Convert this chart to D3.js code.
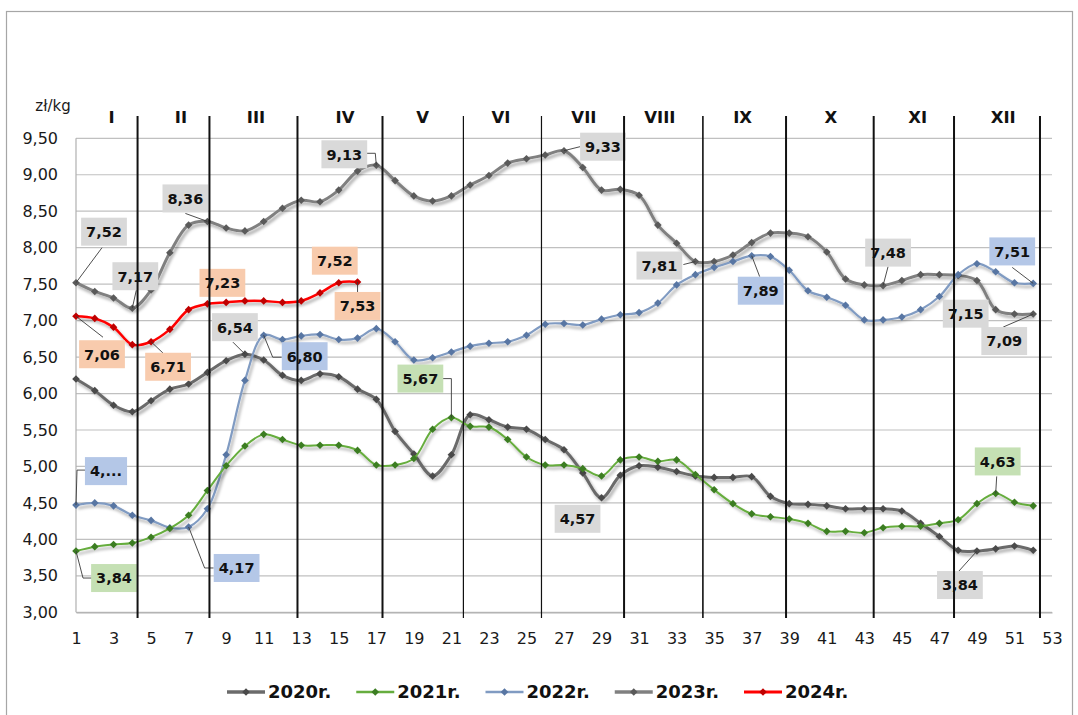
<!DOCTYPE html>
<html><head><meta charset="utf-8">
<script src="https://cdn.jsdelivr.net/npm/d3@7"></script>
<style>body{margin:0;background:#fff}svg{display:block}</style>
</head><body><svg id="c" width="1078" height="715"></svg>
<script>
// ---------------- DATA ----------------
const weeks = d3.range(1, 53);
const v2020 = [6.20,6.04,5.84,5.75,5.90,6.06,6.13,6.29,6.45,6.54,6.46,6.25,6.18,6.27,6.23,6.06,5.92,5.48,5.17,4.87,5.16,5.71,5.64,5.54,5.51,5.37,5.23,4.91,4.57,4.88,5.01,4.99,4.93,4.87,4.85,4.85,4.86,4.59,4.49,4.48,4.46,4.42,4.42,4.42,4.39,4.22,4.04,3.85,3.84,3.87,3.91,3.85];
const v2021 = [3.84,3.90,3.93,3.95,4.03,4.15,4.33,4.67,5.01,5.28,5.44,5.37,5.29,5.29,5.29,5.22,5.02,5.02,5.11,5.51,5.67,5.55,5.54,5.37,5.13,5.02,5.02,4.97,4.87,5.09,5.13,5.07,5.09,4.89,4.68,4.49,4.35,4.31,4.28,4.22,4.11,4.11,4.09,4.16,4.18,4.18,4.22,4.27,4.49,4.63,4.51,4.46];
const v2022 = [4.47,4.50,4.46,4.33,4.26,4.16,4.17,4.42,5.16,6.18,6.80,6.74,6.79,6.81,6.74,6.76,6.89,6.71,6.46,6.49,6.57,6.65,6.69,6.71,6.80,6.95,6.96,6.94,7.02,7.08,7.11,7.24,7.49,7.63,7.73,7.81,7.89,7.88,7.69,7.41,7.32,7.21,7.01,7.01,7.05,7.15,7.33,7.63,7.78,7.67,7.52,7.51];
const v2023 = [7.52,7.40,7.31,7.17,7.42,7.93,8.31,8.36,8.27,8.23,8.36,8.54,8.65,8.63,8.79,9.05,9.13,8.92,8.71,8.64,8.71,8.86,8.99,9.16,9.22,9.27,9.33,9.10,8.79,8.80,8.72,8.31,8.06,7.81,7.81,7.90,8.07,8.20,8.20,8.15,7.94,7.57,7.49,7.48,7.55,7.63,7.63,7.62,7.55,7.15,7.09,7.09];
const v2024 = [7.06,7.03,6.91,6.67,6.71,6.88,7.15,7.23,7.25,7.27,7.27,7.25,7.27,7.38,7.52,7.53];
const seriesNames = ["2020r.","2021r.","2022r.","2023r.","2024r."];
const yTicks = [3,3.5,4,4.5,5,5.5,6,6.5,7,7.5,8,8.5,9,9.5];
const xTicks = [1,3,5,7,9,11,13,15,17,19,21,23,25,27,29,31,33,35,37,39,41,43,45,47,49,51,53];
const monthNames = ["I","II","III","IV","V","VI","VII","VIII","IX","X","XI","XII"];
const monthLabelWeek = [2.90,6.59,10.59,15.33,19.47,23.64,28.06,32.11,36.52,41.22,45.84,50.40];
const monthBoundaryWeek = [4.28,8.11,12.8,17.33,21.64,25.8,30.2,34.4,38.83,43.5,47.78,52.36];
const unitLabel = "zł/kg";

// data labels: series index, week, text; box offset and leader path (placement)
const dataLabels = [
  {s:3,w:1,t:"7,52",dx:28,dy:-51,lead:[[26,-35]]},
  {s:3,w:4,t:"7,17",dx:3,dy:-32,lead:[[4,-18]]},
  {s:3,w:8,t:"8,36",dx:-22,dy:-23,lead:[[-22,-8]]},
  {s:3,w:17,t:"9,13",dx:-32,dy:-11,lead:[[-1,-12],[-10,-12]]},
  {s:3,w:27,t:"9,33",dx:39,dy:-4,lead:[[16,-4]]},
  {s:3,w:34,t:"7,81",dx:-36,dy:4,lead:[[-12,3]]},
  {s:3,w:44,t:"7,48",dx:5,dy:-33,lead:[[5,-19]]},
  {s:3,w:50,t:"7,15",dx:-30,dy:4,lead:[]},
  {s:3,w:52,t:"7,09",dx:-29,dy:27,lead:[[-30,13]]},
  {s:0,w:10,t:"6,54",dx:-10,dy:-27,lead:[[-12,-12]]},
  {s:0,w:29,t:"4,57",dx:-24,dy:21,lead:[]},
  {s:0,w:49,t:"3,84",dx:-17,dy:34,lead:[[-18,20]]},
  {s:1,w:1,t:"3,84",dx:38,dy:27,lead:[[7,27],[16,27]]},
  {s:1,w:21,t:"5,67",dx:-31,dy:-39,lead:[[0,-39],[-9,-39]]},
  {s:1,w:50,t:"4,63",dx:2,dy:-32,lead:[[1,-17]]},
  {s:2,w:1,t:"4,...",dx:30,dy:-34,lead:[[1,-35],[9,-35]]},
  {s:2,w:7,t:"4,17",dx:48,dy:41,lead:[[16,41],[25,41]]},
  {s:2,w:11,t:"6,80",dx:41,dy:21,lead:[[9,22],[18,22]]},
  {s:2,w:37,t:"7,89",dx:9,dy:35,lead:[[8,21]]},
  {s:2,w:52,t:"7,51",dx:-21,dy:-32,lead:[[-21,-16]]},
  {s:4,w:1,t:"7,06",dx:26,dy:38,lead:[[27,21]]},
  {s:4,w:5,t:"6,71",dx:17,dy:25,lead:[[19,18]]},
  {s:4,w:8,t:"7,23",dx:15,dy:-21,lead:[]},
  {s:4,w:15,t:"7,52",dx:-4,dy:-22,lead:[]},
  {s:4,w:16,t:"7,53",dx:0,dy:24,lead:[[0,11]]}
];

// ---------------- STYLE ----------------
const values = [v2020, v2021, v2022, v2023, v2024];
const lineColors = ["#6b6b6b","#66ad3e","#809bc2","#808080","#ff0000"];
const markColors = ["#4a4a4a","#3c7d22","#5876a3","#5a5a5a","#c00000"];
const lineWidths = [3,2,2.2,3,2.5];
const boxColors = ["#d9d9d9","#c5e0b4","#b4c7e7","#d9d9d9","#f8cbad"];
const monthLineWidths = [2,2,2,2,1.2,1.2,2,1.6,2,2,2,2];
const FONT = "'DejaVu Sans', Verdana, sans-serif";

const svg = d3.select("#c");
svg.append("rect").attr("x",0).attr("y",0).attr("width",1078).attr("height",715).attr("fill","#fff");
svg.append("rect").attr("x",6.5).attr("y",11.5).attr("width",1066).attr("height",712)
  .attr("fill","none").attr("stroke","#a6a6a6").attr("stroke-width",1.2);

const defs = svg.append("defs");
const f = defs.append("filter").attr("id","sh").attr("x","-5%").attr("y","-20%").attr("width","110%").attr("height","140%");
f.append("feDropShadow").attr("dx",2).attr("dy",3).attr("stdDeviation",1.8)
  .attr("flood-color","#000").attr("flood-opacity",0.33);

const x = d3.scaleLinear().domain([1,53]).range([76,1052]);
const y = d3.scaleLinear().domain([3,9.5]).range([612.3,138.3]);

// grid
const grid = svg.append("g");
grid.selectAll("line").data(yTicks).join("line")
  .attr("x1",x(1)).attr("x2",x(53)).attr("y1",d=>y(d)).attr("y2",d=>y(d))
  .attr("stroke","#c0c0c0").attr("stroke-width",1.2);
grid.append("line").attr("x1",x(1)).attr("x2",x(1)).attr("y1",y(9.5)).attr("y2",y(3))
  .attr("stroke","#b0b0b0").attr("stroke-width",1.2);

// axes
const yAxis = svg.append("g").attr("transform",`translate(${x(1)},0)`)
  .call(d3.axisLeft(y).tickValues(yTicks).tickSize(0).tickPadding(18)
    .tickFormat(d=>d3.format(".2f")(d).replace(".",",")));
yAxis.select(".domain").remove();
yAxis.selectAll("text").attr("font-family",FONT).attr("font-size",16).attr("fill","#1a1a1a");

const xAxis = svg.append("g").attr("transform",`translate(0,${y(3)})`)
  .call(d3.axisBottom(x).tickValues(xTicks).tickSize(0).tickPadding(20).tickFormat(d3.format("d")));
xAxis.select(".domain").attr("stroke","#b0b0b0").attr("stroke-width",1.2);
xAxis.selectAll("text").attr("font-family",FONT).attr("font-size",16).attr("fill","#1a1a1a");

svg.append("text").attr("x",53).attr("y",111).attr("text-anchor","middle")
  .attr("font-family",FONT).attr("font-size",15).attr("fill","#1a1a1a").text(unitLabel);

// series
const line = d3.line().x((d,i)=>x(weeks[i])).y(d=>y(d)).curve(d3.curveCatmullRom.alpha(0.5));
const diamond = "M0,-3.8L3.8,0L0,3.8L-3.8,0Z";
const order = [3,0,2,1,4];
order.forEach(s=>{
  const g = svg.append("g");
  g.append("path").attr("d",line(values[s])).attr("fill","none")
    .attr("stroke",lineColors[s]).attr("stroke-width",lineWidths[s])
    .attr("stroke-linejoin","round").attr("filter","url(#sh)");
  g.selectAll("path.m").data(values[s]).join("path").attr("class","m")
    .attr("d",diamond).attr("transform",(d,i)=>`translate(${x(weeks[i])},${y(d)})`)
    .attr("fill",markColors[s]);
});

// data labels
const lg = svg.append("g");
dataLabels.forEach(L=>{
  const px = x(L.w), py = y(values[L.s][L.w-1]);
  if (L.lead.length){
    const pts = [[px,py]].concat(L.lead.map(p=>[px+p[0],py+p[1]]));
    lg.append("path").attr("d",d3.line()(pts)).attr("fill","none")
      .attr("stroke","#3a3a3a").attr("stroke-width",0.9);
  }
  const cx = px+L.dx, cy = py+L.dy;
  const g = lg.append("g");
  const r = g.append("rect");
  const t = g.append("text").attr("x",cx).attr("y",cy).attr("dy","0.37em")
    .attr("text-anchor","middle").attr("font-family",FONT).attr("font-weight","bold")
    .attr("font-size",14.5).attr("fill","#111").text(L.t);
  const w = t.node().getComputedTextLength()+10;
  r.attr("x",cx-w/2).attr("y",cy-14).attr("width",w).attr("height",28).attr("fill",boxColors[L.s]);
});

// month separators
const mg = svg.append("g");
mg.selectAll("line").data(monthBoundaryWeek).join("line")
  .attr("x1",d=>x(d)).attr("x2",d=>x(d)).attr("y1",116).attr("y2",618)
  .attr("stroke","#111").attr("stroke-width",(d,i)=>monthLineWidths[i]);
mg.selectAll("text").data(monthNames).join("text")
  .attr("x",(d,i)=>x(monthLabelWeek[i])).attr("y",123).attr("text-anchor","middle")
  .attr("font-family",FONT).attr("font-weight","bold").attr("font-size",16.5).attr("fill","#111")
  .text(d=>d);

// legend
const leg = svg.append("g");
let lx = 227;
seriesNames.forEach((name,s)=>{
  const g = leg.append("g");
  g.append("line").attr("x1",lx).attr("x2",lx+38).attr("y1",692).attr("y2",692)
    .attr("stroke",lineColors[s]).attr("stroke-width",lineWidths[s]+0.5);
  g.append("path").attr("d",diamond).attr("transform",`translate(${lx+19},692)`).attr("fill",markColors[s]);
  const t = g.append("text").attr("x",lx+41).attr("y",692).attr("dy","0.36em")
    .attr("font-family",FONT).attr("font-weight","bold").attr("font-size",18).attr("fill","#111").text(name);
  lx = lx+41+t.node().getComputedTextLength()+25;
});
</script></body></html>
